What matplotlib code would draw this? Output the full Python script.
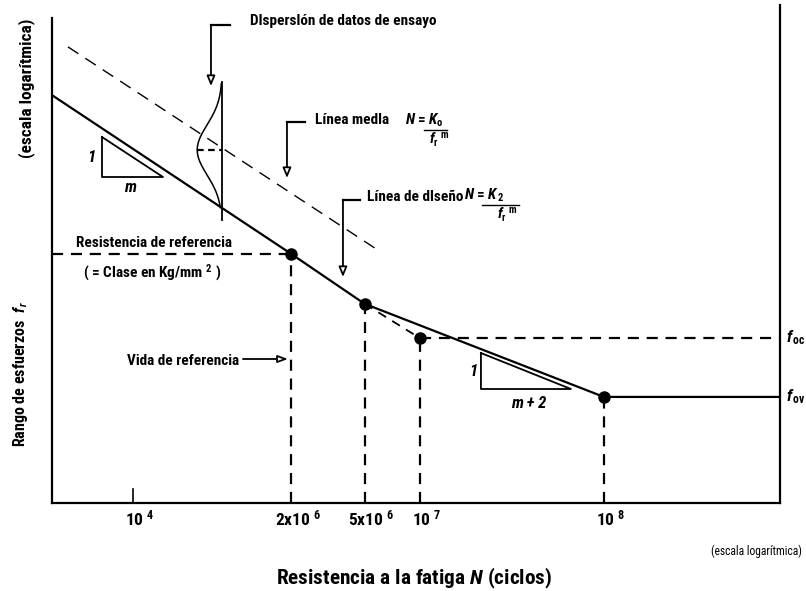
import numpy as np
import matplotlib
matplotlib.use("Agg")
import matplotlib.pyplot as plt
from matplotlib import font_manager as fm
from matplotlib.transforms import ScaledTranslation

names = {f.name for f in fm.fontManager.ttflist}
FAM = 'Liberation Sans'
for cand in ['Liberation Sans Narrow', 'Arial Narrow', 'Roboto Condensed', 'Fira Sans Condensed']:
    if cand in names:
        FAM = cand
        break
plt.rcParams['font.family'] = [FAM, 'DejaVu Sans']
plt.rcParams['font.weight'] = 'bold'
plt.rcParams['mathtext.fontset'] = 'custom'
plt.rcParams['mathtext.rm'] = FAM + ':bold'
plt.rcParams['mathtext.it'] = FAM + ':italic:bold'
plt.rcParams['mathtext.bf'] = FAM + ':bold'

# ---- data (schematic S-N curve) ----
N_design = [1e5, 2e6, 5e6, 1e8, 9.06e8]
S_design = [81.9, 50.0, 40.0, 21.3, 21.3]
N_ext = [5e6, 1e7]
S_ext = [40.0, 33.1]
N_mean = [1.22e5, 5.9e6]
S_mean = [91.6, 50.8]
N_points = [2e6, 5e6, 1e7, 1e8]
S_points = [50.0, 40.0, 33.1, 21.3]
N_scatter = 8.4e5
S_scatter_peak = 70.9
S_scatter_range = [56.8, 84.5]
tick_pos = [2.76e5, 2e6, 5e6, 1e7, 1e8]
tick_labels = [r'10 $^{4}$', r'2x10 $^{6}$', r'5x10 $^{6}$', r'10 $^{7}$', r'10 $^{8}$']
f_oc = 33.1
f_ov = 21.3

W, H = 806, 591
fig = plt.figure(figsize=(W / 100, H / 100), dpi=100)
ax = fig.add_axes([52 / W, (H - 503) / H, 728 / W, 498 / H])
ax.set_xscale('log')
XMIN, XMAX = 1e5, 9.06e8
ax.set_xlim(XMIN, XMAX)
ax.set_ylim(0, 100)


def P(px, py):
    """figure pixel -> data coords"""
    x = XMIN * 10 ** ((px - 52) / 184.0)
    y = (503 - py) / 4.98
    return x, y


LW = 1.6
ax.spines['top'].set_visible(False)
for s in ['left', 'right', 'bottom']:
    ax.spines[s].set_linewidth(1.6)
ax.spines['left'].set_bounds(0, 97.4)

# design curve
ax.plot(N_design, S_design, color='black', lw=LW, solid_capstyle='butt')
ax.plot(N_ext, S_ext, color='black', lw=1.3, ls=(0, (5, 4)))
# mean line
ax.plot(N_mean, S_mean, color='black', lw=1.0, ls=(0, (9, 6)))
# dashed reference lines
dash = (0, (5, 3.5))
ax.plot([XMIN, N_points[0]], [S_points[0], S_points[0]], color='black', lw=LW, ls=dash)
for n, s in zip(N_points, S_points):
    ax.plot([n, n], [0, s], color='black', lw=LW, ls=dash)
ax.plot([N_points[2], XMAX], [f_oc, f_oc], color='black', lw=LW, ls=dash)
ax.plot(N_points, S_points, 'o', color='black', ms=8, zorder=5)

# scatter distribution (gaussian)
ys = np.linspace(S_scatter_range[0] + 2.5, S_scatter_range[1] - 0.3, 200)
sig = 5.0
bulge = 0.135 * np.exp(-0.5 * ((ys - S_scatter_peak) / sig) ** 2)
ax.plot(N_scatter / 10 ** bulge, ys, color='black', lw=1.1)
ax.plot([N_scatter, N_scatter], S_scatter_range, color='black', lw=1.3)
ax.plot([N_scatter / 10 ** 0.135, N_scatter], [S_scatter_peak, S_scatter_peak],
        color='black', lw=1.6, ls=(0, (3, 2)))

# ticks
ax.set_xticks(tick_pos)
ax.set_xticklabels(tick_labels, fontsize=12.5, fontweight='bold')
ax.tick_params(axis='x', which='major', length=0, pad=4)
ax.tick_params(axis='x', which='minor', bottom=False)
for lab in ax.get_xticklabels():
    lab.set_transform(lab.get_transform() + ScaledTranslation(7 / 100, 0, fig.dpi_scale_trans))
ax.set_yticks([])
ax.plot([tick_pos[0], tick_pos[0]], [0, 2.8], color='black', lw=1.2)

# axis labels
fig.text(414 / W, 1 - 578 / H, r'Resistencia a la fatiga $N$ (ciclos)', fontsize=15.3,
         ha='center', va='center')
fig.text(802 / W, 1 - 551 / H, '(escala logarítmica)', fontsize=8.3, ha='right', va='center',
         fontweight='normal')
fig.text(21 / W, 1 - 374 / H, r'Rango de esfuerzos  $f_{\,r}$', fontsize=11.5, rotation=90,
         ha='center', va='center')
fig.text(27 / W, 1 - 88 / H, '(escala logarítmica)', fontsize=12.5, rotation=90,
         ha='center', va='center')


def tx(px, py, s, **kw):
    kw.setdefault('fontsize', 11)
    kw.setdefault('va', 'center')
    fig.text(px / W, 1 - py / H, s, **kw)


def poly(pts, **kw):
    xs, ys_ = zip(*[P(*p) for p in pts])
    ax.plot(xs, ys_, color='black', clip_on=False, **kw)


def elbow_arrow(x0, y0, x1, y_tip):
    poly([(x0, y0), (x1, y0)], lw=1.6)
    ax.annotate('', xy=P(x1, y_tip), xytext=P(x1, y0),
                arrowprops=dict(arrowstyle='-|>,head_length=0.6,head_width=0.25',
                                lw=1.3, color='black', fc='white', shrinkA=0, shrinkB=0),
                annotation_clip=False)


# text annotations
tx(250, 21, 'Dlsperslón de datos de ensayo')
elbow_arrow(230, 25, 211, 86)

tx(315, 120, 'Línea medla')
tx(405, 129, r'$N$ = $K_{\mathrm{o}}$', va='bottom')
poly([(424, 130), (447, 130)], lw=1.0)
tx(429, 131, r'$f_{\mathrm{r}}$ $^{\mathrm{m}}$', fontsize=10.5, va='top')
elbow_arrow(305, 122, 287, 178)

tx(367, 197, 'Línea de dlseño')
tx(464, 204, r'$N$ = $K_{\,2}$', va='bottom')
poly([(482, 205), (519, 205)], lw=1.0)
tx(497, 206, r'$f_{\mathrm{r}}$ $^{\mathrm{m}}$', fontsize=10.5, va='top')
elbow_arrow(360, 200, 343, 277)

tx(154, 243, 'Resistencia de referencia', ha='center')
tx(152, 273, r'( = Clase en Kg/mm $^{2}$ )', ha='center')
tx(127, 361, 'Vida de referencia')
ax.annotate('', xy=P(288, 359), xytext=P(243, 359),
            arrowprops=dict(arrowstyle='-|>,head_length=0.6,head_width=0.22',
                            lw=1.3, color='black', fc='white', shrinkA=0, shrinkB=0))

# slope triangles
poly([(102, 137), (102, 177), (163, 177), (102, 137)], lw=1.3)
tx(91, 157, '1', fontsize=12, ha='center', fontstyle='italic')
tx(130, 188, 'm', fontsize=12, ha='center', fontstyle='italic')
poly([(481, 353), (481, 389), (571, 389), (481, 353)], lw=1.3)
tx(473, 372, '1', fontsize=12, ha='center', fontstyle='italic')
tx(529, 403, 'm + 2', fontsize=12, ha='center', fontstyle='italic')

# right labels
tx(786, 338, r'$f_{\,\mathrm{oc}}$', fontsize=12)
tx(786, 397, r'$f_{\,\mathrm{ov}}$', fontsize=12)

fig.savefig('out.png', dpi=100)
